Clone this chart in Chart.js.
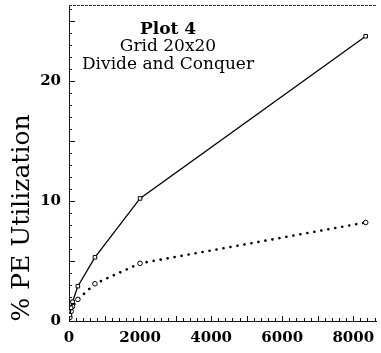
<!DOCTYPE html>
<html>
<head>
<meta charset="utf-8">
<script src="https://cdn.jsdelivr.net/npm/chart.js@4/dist/chart.umd.min.js"></script>
<style>
  body { margin: 0; background: #fff; }
  canvas { display: block; }
</style>
</head>
<body>
<canvas id="plot4" width="381" height="353"></canvas>
<script>
// problem size (x) for both runs
const sizes = [25, 60, 100, 250, 730, 2000, 8350];
const solidUtil = [0.5, 1.1, 1.6, 2.9, 5.3, 10.2, 23.7];
const dottedUtil = [0.3, 0.8, 1.2, 1.8, 3.1, 4.8, 8.2];
const xTickValues = [0, 2000, 4000, 6000, 8000];
const yTickValues = [0, 10, 20];
const titleLines = ['Plot 4', 'Grid 20x20', 'Divide and Conquer'];
const yTitle = '% PE Utilization';

const serif = '"DejaVu Serif", serif';

// inward tick marks, top dashed frame, annotations, rotated y title
const decorations = {
    id: 'decorations',
    afterDraw(chart) {
        const ctx = chart.ctx;
        const area = chart.chartArea;
        const x = chart.scales.x, y = chart.scales.y;
        ctx.save();
        ctx.strokeStyle = '#111';
        ctx.lineWidth = 1;
        ctx.beginPath();
        for (let v = 0; v <= x.max; v += 200) {
            const px = Math.round(x.getPixelForValue(v)) + 0.5;
            const len = v % 1000 === 0 ? 5 : 3;
            ctx.moveTo(px, area.bottom);
            ctx.lineTo(px, area.bottom - len);
        }
        for (let v = 0; v <= y.max; v += 1) {
            const py = Math.round(y.getPixelForValue(v)) + 0.5;
            const len = v % 5 === 0 ? 6 : 3;
            ctx.moveTo(area.left, py);
            ctx.lineTo(area.left + len, py);
        }
        ctx.stroke();

        ctx.setLineDash([3, 1]);
        ctx.strokeStyle = '#333';
        ctx.beginPath();
        ctx.moveTo(area.left, area.top + 0.5);
        ctx.lineTo(area.right, area.top + 0.5);
        ctx.stroke();
        ctx.setLineDash([]);

        ctx.fillStyle = '#000';
        ctx.textAlign = 'center';
        ctx.textBaseline = 'middle';
        const cx = 168;
        ctx.font = 'bold 17px ' + serif;
        ctx.fillText(titleLines[0], cx, 30);
        ctx.font = '17px ' + serif;
        ctx.fillText(titleLines[1], cx, 47);
        ctx.fillText(titleLines[2], cx, 65);

        ctx.translate(22, 218);
        ctx.rotate(-Math.PI / 2);
        ctx.font = '25px ' + serif;
        ctx.fillText(yTitle, 0, 0);
        ctx.restore();
    }
};

new Chart('plot4', {
    type: 'line',
    data: {
        datasets: [
            {
                label: 'solid',
                data: sizes.map((s, i) => ({ x: s, y: solidUtil[i] })),
                borderColor: '#000',
                borderWidth: 1.3,
                pointStyle: 'rect',
                pointRadius: 2.5,
                pointBorderWidth: 1,
                pointBorderColor: '#000',
                pointBackgroundColor: '#fff',
                tension: 0,
            },
            {
                label: 'dotted',
                data: sizes.map((s, i) => ({ x: s, y: dottedUtil[i] })),
                borderColor: '#000',
                borderWidth: 2.6,
                borderDash: [0.1, 7],
                borderCapStyle: 'round',
                pointStyle: 'circle',
                pointRadius: 2.3,
                pointBorderWidth: 1,
                pointBorderColor: '#000',
                pointBackgroundColor: '#fff',
                tension: 0,
            }
        ]
    },
    options: {
        responsive: false,
        animation: false,
        layout: { padding: { top: 4, right: 3, left: 0, bottom: 0 } },
        plugins: {
            legend: { display: false },
            tooltip: { enabled: false },
        },
        scales: {
            x: {
                type: 'linear',
                min: 0,
                max: 8640,
                afterBuildTicks: scale => { scale.ticks = xTickValues.map(v => ({ value: v })); },
                afterFit: scale => {
                    scale.height = 32;
                    scale.paddingLeft = 0;
                    scale.paddingRight = 0;
                },
                grid: { display: false, drawTicks: false },
                border: { display: true, color: '#111', width: 1 },
                ticks: {
                    padding: 8,
                    color: '#000',
                    maxRotation: 0,
                    callback: v => String(v),
                    font: { family: serif, size: 15, weight: 'bold' },
                },
            },
            y: {
                type: 'linear',
                min: 0,
                max: 26.3,
                afterBuildTicks: scale => { scale.ticks = yTickValues.map(v => ({ value: v })); },
                afterFit: scale => {
                    scale.width = 69;
                    scale.paddingTop = 0;
                    scale.paddingBottom = 0;
                },
                grid: { display: false, drawTicks: false },
                border: { display: true, color: '#111', width: 1 },
                ticks: {
                    padding: 8,
                    color: '#000',
                    callback: v => String(v),
                    font: { family: serif, size: 15, weight: 'bold' },
                },
            }
        }
    },
    plugins: [decorations]
});
</script>
</body>
</html>
